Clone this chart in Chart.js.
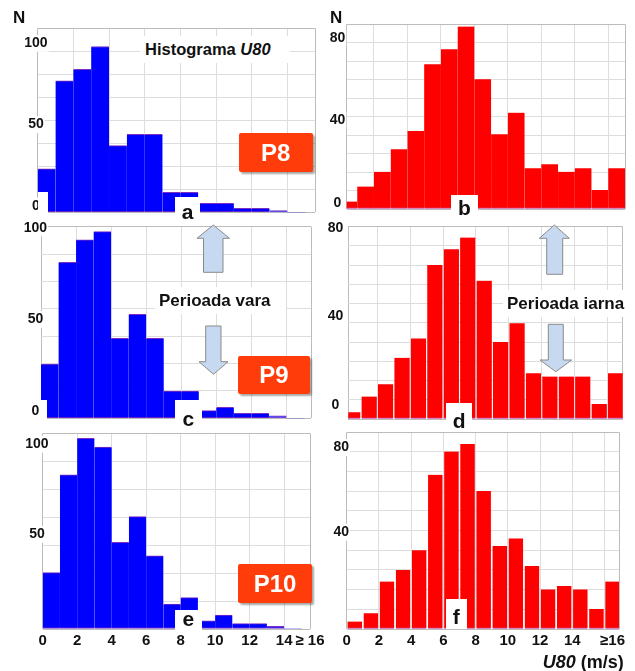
<!DOCTYPE html>
<html>
<head>
<meta charset="utf-8">
<script src="https://cdn.jsdelivr.net/npm/chart.js@4.4.0/dist/chart.umd.min.js"></script>
<style>
html,body{margin:0;padding:0;background:#fff;}
#wrap{position:relative;width:635px;height:671px;overflow:hidden;font-family:"Liberation Sans",Arial,sans-serif;}
canvas{position:absolute;left:0;top:0;}
.wb{position:absolute;background:#fff;}
.t{position:absolute;white-space:nowrap;font-weight:bold;color:#111;line-height:1;}
.let{position:absolute;font-weight:bold;color:#111;line-height:1;font-size:21px;text-align:center;}
.pbox{position:absolute;background:#ff3c0a;color:#fff;font-weight:bold;font-size:24px;display:flex;align-items:center;justify-content:center;border-radius:2px;box-shadow:2px 2px 2px rgba(0,0,0,0.35);}
svg{position:absolute;left:0;top:0;}
</style>
</head>
<body>
<div id="wrap">
<canvas id="pa" width="635" height="671"></canvas>
<canvas id="pb" width="635" height="671"></canvas>
<canvas id="pc" width="635" height="671"></canvas>
<canvas id="pd" width="635" height="671"></canvas>
<canvas id="pe" width="635" height="671"></canvas>
<canvas id="pf" width="635" height="671"></canvas>

<!-- white boxes under the "0" labels -->
<div class="wb" style="left:37.5px;top:191.7px;width:10.8px;height:21px;"></div>
<div class="wb" style="left:40.8px;top:400px;width:6px;height:18.5px;"></div>

<!-- title texts with white background -->
<div class="wb" style="left:140px;top:36px;width:150px;height:27px;"></div>
<div class="t" style="left:145px;top:40.9px;font-size:16.5px;">Histograma <i>U80</i></div>
<div class="wb" style="left:155px;top:287px;width:131px;height:27px;"></div>
<div class="t" style="left:159px;top:291.7px;font-size:17px;">Perioada vara</div>
<div class="wb" style="left:503px;top:290px;width:132px;height:27px;"></div>
<div class="t" style="left:507px;top:294.7px;font-size:17px;">Perioada iarna</div>

<div class="t" style="left:13px;top:8.5px;font-size:17px;">N</div>
<div class="t" style="left:330px;top:8.5px;font-size:17px;">N</div>
<div class="t" style="left:542.7px;top:652.6px;font-size:18px;"><i>U80</i> (m/s)</div>

<!-- panel letters -->
<div class="wb" style="left:175px;top:196.7px;width:25px;height:25px;"></div>
<div class="let" style="left:175px;top:200.9px;width:25px;">a</div>
<div class="wb" style="left:451px;top:195px;width:26.7px;height:27px;"></div>
<div class="let" style="left:451px;top:197.1px;width:26.7px;">b</div>
<div class="wb" style="left:175px;top:400px;width:26.7px;height:26px;"></div>
<div class="let" style="left:175px;top:407.9px;width:26.7px;">c</div>
<div class="wb" style="left:446px;top:403.3px;width:26.3px;height:24px;"></div>
<div class="let" style="left:446px;top:409.9px;width:26.3px;">d</div>
<div class="wb" style="left:175px;top:610px;width:26.7px;height:22px;"></div>
<div class="let" style="left:175px;top:608.4px;width:26.7px;">e</div>
<div class="wb" style="left:445.7px;top:599.3px;width:21px;height:30px;"></div>
<div class="let" style="left:445.7px;top:605.7px;width:21px;">f</div>

<!-- P boxes -->
<div class="pbox" style="left:238.5px;top:133px;width:74.5px;height:39px;">P8</div>
<div class="pbox" style="left:237.7px;top:355.7px;width:72.3px;height:38.6px;">P9</div>
<div class="pbox" style="left:238.3px;top:564.3px;width:73.4px;height:39px;">P10</div>

<!-- arrows -->
<svg width="635" height="671">
  <g fill="#c6d9f1" stroke="#8a8a8a" stroke-width="1">
    <polygon points="213.3,225 229.5,238.3 223,238.3 223,272.3 203.5,272.3 203.5,238.3 197,238.3"/>
    <polygon points="205.7,326 221,326 221,361.7 228,361.7 213.5,374.3 199,361.7 205.7,361.7"/>
    <polygon points="554.3,225 569.3,238.3 562.7,238.3 562.7,274.3 546.7,274.3 546.7,238.3 539.3,238.3"/>
    <polygon points="548.3,324.3 563.3,324.3 563.3,360 571.7,360 555.8,371.7 540,360 548.3,360"/>
  </g>
</svg>
</div>

<script>
// ---------------- data ----------------
const leftBinStarts  = [0,1,2,3,4,5,6,7,8,9,10,11,12,13,14];
const rightBinStarts = [0,1,2,3,4,5,6,7,8,9,10,11,12,13,14,15,16];

const countsP8Vara   = [26.7, 80.9, 88.1, 102.1, 41.1, 48.0, 48.0, 12.3, 12.3, 5.5, 5.5, 2.5, 2.5, 1.0, 0];
const countsP9Vara   = [29.6, 85.1, 97.3, 101.8, 43.6, 56.7, 43.6, 14.9, 14.9, 4.2, 6.0, 2.7, 2.7, 1.3, 0];
const countsP10Vara  = [31.3, 85.6, 105.9, 101.1, 48.1, 62.4, 40.6, 13.9, 17.4, 4.6, 7.8, 3.0, 3.0, 1.5, 0];

const countsP8Iarna  = [3.6, 10.9, 18.1, 29.0, 37.9, 70.3, 77.6, 88.6, 63.0, 36.3, 46.8, 19.8, 21.7, 18.1, 19.8, 9.2, 19.8];
const countsP9Iarna  = [3.0, 10.1, 15.6, 27.6, 36.3, 69.4, 76.4, 81.7, 62.3, 34.7, 43.1, 20.6, 19.1, 19.1, 19.1, 6.8, 20.6];
const countsP10Iarna = [3.5, 7.4, 22.4, 27.9, 37.2, 72.8, 83.8, 87.4, 65.2, 39.2, 42.8, 29.8, 18.7, 20.3, 18.7, 9.4, 22.4];

const yTicksVara  = [0, 50, 100];
const yTicksIarna = [0, 40, 80];
const yTicksVaraBottom  = [50, 100];
const yTicksIarnaBottom = [40, 80];

const xTickValuesVara  = [0, 2, 4, 6, 8, 10, 12, 14, 15.5];
const xTickLabelsVara  = ['0','2','4','6','8','10','12','14','≥ 16'];
const xTickValuesIarna = [0, 2, 4, 6, 8, 10, 12, 14, 16.5];
const xTickLabelsIarna = ['0','2','4','6','8','10','12','14','≥16'];

// ---------------- layout / style ----------------
const FONT = '"Liberation Sans", Arial, sans-serif';
const W = 635, H = 671;
const BLUE = '#0000ff', RED = '#ff0000';

const panels = [
  {id:'pa', bins:leftBinStarts,  counts:countsP8Vara,   color:BLUE, edge:'#7a2fc0', area:{l:37.7,t:28.3,r:315,b:212.3}, xMin:0,    xMax:15.55, yMax:113.3, gridN:8,  yTicks:yTicksVara,  yOff:-6.5,  yPad:-13.4},
  {id:'pb', bins:rightBinStarts, counts:countsP8Iarna,  color:RED,  edge:'#c0208a', area:{l:346.7,t:24.3,r:625,b:209},   xMin:0.37, xMax:17,    yMax:89.7,  gridN:10, yTicks:yTicksIarna, yOff:-6.1,  yPad:-17},
  {id:'pc', bins:leftBinStarts,  counts:countsP9Vara,   color:BLUE, edge:'#7a2fc0', area:{l:41,t:226.7,r:311,b:418.3},   xMin:0,    xMax:15.4,  yMax:104.5, gridN:7,  yTicks:yTicksVara,  yOff:-7.2,  yPad:-17.2},
  {id:'pd', bins:rightBinStarts, counts:countsP9Iarna,  color:RED,  edge:'#c0208a', area:{l:348.3,t:226.7,r:622.7,b:419}, xMin:0.23, xMax:16.93, yMax:86.6,  gridN:10, yTicks:yTicksIarna, yOff:-13.7, yPad:-20.6},
  {id:'pe', bins:leftBinStarts,  counts:countsP10Vara,  color:BLUE, edge:'#7a2fc0', area:{l:42.7,t:433.3,r:310,b:629},   xMin:0,    xMax:15.5,  yMax:108.7, gridN:7,  yTicks:yTicksVaraBottom,  yOff:-4.7,  yPad:-17.4,
   xTicks:xTickValuesVara, xLabels:xTickLabelsVara},
  {id:'pf', bins:rightBinStarts, counts:countsP10Iarna, color:RED,  edge:'#c0208a', area:{l:346.7,t:432.3,r:619,b:629},   xMin:0,    xMax:16.9,  yMax:92.9,  gridN:10, yTicks:yTicksIarnaBottom, yOff:-12,   yPad:-13.2,
   xTicks:xTickValuesIarna, xLabels:xTickLabelsIarna}
];

const gridCol = (c) => {
  const n = c.scale.ticks.length - 1;
  return (c.index === 0 || c.index === n) ? '#bcbcbc' : '#dddddd';
};
const noSize = (s) => { if (s.isHorizontal()) { s.height = 0; } else { s.width = 0; } };

function buildChart(p) {
  const pts = p.bins.map((b, i) => ({x: b + 0.5, y: p.counts[i]}));
  const scales = {
    x: {
      type:'linear', axis:'x', position:'bottom', min:p.xMin, max:p.xMax, offset:false,
      afterBuildTicks: (s) => {
        const vals = [p.xMin];
        for (let v = 2; v < p.xMax - 0.05; v += 2) vals.push(v);
        vals.push(p.xMax);
        s.ticks = vals.map(v => ({value:v}));
      },
      ticks:{display:false},
      grid:{color:gridCol, lineWidth:1, drawTicks:false, offset:false},
      border:{display:false},
      afterFit:noSize
    },
    y: {
      type:'linear', axis:'y', position:'left', min:0, max:p.yMax,
      afterBuildTicks: (s) => {
        const t = [];
        for (let k = 0; k <= p.gridN; k++) t.push({value: p.yMax * k / p.gridN});
        s.ticks = t;
      },
      ticks:{display:false},
      grid:{color:gridCol, lineWidth:1, drawTicks:false},
      border:{display:false},
      afterFit:noSize
    },
    yl: {
      type:'linear', axis:'y', position:'left', min:0, max:p.yMax,
      afterBuildTicks: (s) => { s.ticks = p.yTicks.map(v => ({value:v})); },
      ticks:{
        color:'#111', font:{family:FONT, size:14, weight:'bold'},
        mirror:true, crossAlign:'center', padding:p.yPad, labelOffset:p.yOff, z:1,
        showLabelBackdrop:true, backdropColor:'#ffffff', backdropPadding:{left:1,right:1,top:0,bottom:0}
      },
      grid:{display:false, drawTicks:false},
      border:{display:false},
      afterFit:noSize
    }
  };
  if (p.xTicks) {
    scales.xl = {
      type:'linear', axis:'x', position:'bottom', min:p.xMin, max:p.xMax, offset:false,
      afterBuildTicks: (s) => { s.ticks = p.xTicks.map(v => ({value:v})); },
      ticks:{
        color:'#111', font:{family:FONT, size:15, weight:'bold'},
        mirror:true, padding:-21, maxRotation:0, minRotation:0, autoSkip:false, z:1,
        callback:(v, i) => p.xLabels[i]
      },
      grid:{display:false, drawTicks:false, offset:false},
      border:{display:false},
      afterFit:noSize
    };
  }
  new Chart(document.getElementById(p.id), {
    type:'bar',
    data:{datasets:[{
      data:pts,
      backgroundColor:p.color,
      borderColor:p.edge,
      borderWidth:{top: p.color === BLUE ? 1 : 0, bottom:1, left:0, right:0},
      borderSkipped:false,
      barPercentage:1.0, categoryPercentage:1.0,
      clip:0,
      xAxisID:'x', yAxisID:'y'
    }]},
    options:{
      responsive:false, animation:false, events:[],
      layout:{padding:{left:p.area.l, top:p.area.t, right:W - p.area.r, bottom:H - p.area.b}},
      plugins:{legend:{display:false}, title:{display:false}, tooltip:{enabled:false}},
      scales:scales
    }
  });
}

panels.forEach(buildChart);
</script>
</body>
</html>
